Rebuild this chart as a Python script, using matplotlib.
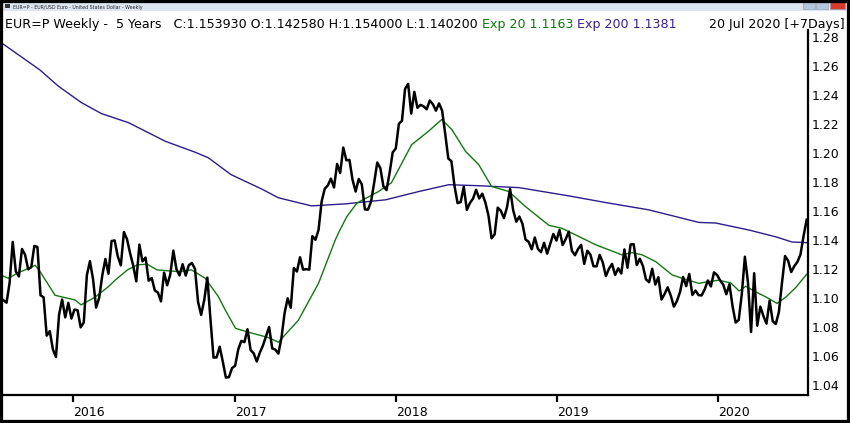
import numpy as np
import pandas as pd
import matplotlib
matplotlib.use('Agg')
import matplotlib.pyplot as plt
from matplotlib.patches import Rectangle

# weekly closes, EUR=P, week of 27 Jul 2015 .. week of 20 Jul 2020
weeks = pd.date_range('2015-07-27', '2020-07-20', freq='W-MON')
close = [
    # 2015
    1.0984, 1.0967, 1.1105, 1.1386, 1.1183, 1.1148, 1.1337, 1.1298, 1.1197, 1.1212,
    1.1358, 1.1351, 1.1018, 1.1004, 1.0740, 1.0771, 1.0646, 1.0593, 1.0884, 1.0989,
    1.0866, 1.0966, 1.0858,
    # 2016
    1.0920, 1.0915, 1.0797, 1.0831, 1.1156, 1.1253, 1.1130, 1.0933, 1.1002, 1.1156,
    1.1268, 1.1166, 1.1392, 1.1396, 1.1287, 1.1224, 1.1454, 1.1404, 1.1308, 1.1223,
    1.1114, 1.1367, 1.1252, 1.1278, 1.1119, 1.1137, 1.1051, 1.1037, 1.0976, 1.1174,
    1.1087, 1.1161, 1.1326, 1.1198, 1.1155, 1.1232, 1.1154, 1.1225, 1.1241, 1.1200,
    1.0972, 1.0883, 1.0986, 1.1140, 1.0856, 1.0589, 1.0590, 1.0664, 1.0561, 1.0451,
    1.0454, 1.0517,
    # 2017
    1.0532, 1.0645, 1.0704, 1.0695, 1.0784, 1.0641, 1.0618, 1.0562, 1.0623, 1.0672,
    1.0737, 1.0800, 1.0652, 1.0644, 1.0616, 1.0726, 1.0895, 1.0997, 1.0932, 1.1206,
    1.1182, 1.1280, 1.1195, 1.1198, 1.1195, 1.1426, 1.1400, 1.1469, 1.1665, 1.1752,
    1.1775, 1.1822, 1.1761, 1.1923, 1.1861, 1.2036, 1.1948, 1.1951, 1.1814, 1.1733,
    1.1819, 1.1783, 1.1610, 1.1608, 1.1664, 1.1793, 1.1933, 1.1894, 1.1768, 1.1743,
    1.1862, 1.2003,
    # 2018
    1.2030, 1.2200, 1.2220, 1.2440, 1.2475, 1.2270, 1.2420, 1.2310, 1.2330, 1.2320,
    1.2300, 1.2360, 1.2335, 1.2290, 1.2340, 1.2290, 1.2130, 1.1960, 1.1942, 1.1772,
    1.1653, 1.1660, 1.1766, 1.1607, 1.1654, 1.1684, 1.1745, 1.1685, 1.1718, 1.1657,
    1.1567, 1.1411, 1.1438, 1.1622, 1.1601, 1.1550, 1.1625, 1.1750, 1.1604, 1.1525,
    1.1561, 1.1511, 1.1402, 1.1387, 1.1335, 1.1416, 1.1338, 1.1315, 1.1380, 1.1305,
    1.1372, 1.1441,
    # 2019
    1.1395, 1.1468, 1.1364, 1.1405, 1.1456, 1.1325, 1.1294, 1.1337, 1.1366, 1.1234,
    1.1325, 1.1298, 1.1218, 1.1218, 1.1296, 1.1244, 1.1150, 1.1201, 1.1234, 1.1158,
    1.1204, 1.1168, 1.1334, 1.1208, 1.1368, 1.1370, 1.1226, 1.1270, 1.1219, 1.1127,
    1.1108, 1.1201, 1.1092, 1.1143, 1.0989, 1.1027, 1.1073, 1.1017, 1.0940, 1.0978,
    1.1040, 1.1144, 1.1081, 1.1165, 1.1020, 1.1051, 1.1019, 1.1017, 1.1059, 1.1120,
    1.1079, 1.1176,
    # 2020
    1.1158, 1.1120, 1.1091, 1.1025, 1.1094, 1.0944, 1.0830, 1.0848, 1.1026, 1.1284,
    1.1106, 1.0765, 1.1170, 1.0809, 1.0940, 1.0875, 1.0823, 1.0981, 1.0840, 1.0820,
    1.0902, 1.1102, 1.1289, 1.1256, 1.1178, 1.1219, 1.1248, 1.1300, 1.1427, 1.1539,
]

ema20_dates = [
    '2015-07-27', '2015-08-07', '2015-08-29', '2015-10-07', '2015-10-18', '2015-11-21',
    '2016-01-05', '2016-01-19', '2016-02-20', '2016-03-21', '2016-04-05', '2016-05-03',
    '2016-05-25', '2016-06-17', '2016-07-09', '2016-08-27', '2016-09-25', '2016-10-26',
    '2016-11-25', '2016-12-11', '2017-01-03', '2017-02-01', '2017-03-18', '2017-04-10',
    '2017-05-25', '2017-07-10', '2017-08-17', '2017-08-24', '2017-09-12', '2017-10-05',
    '2017-11-23', '2017-12-22', '2018-02-06', '2018-03-16', '2018-04-15', '2018-05-08',
    '2018-06-08', '2018-07-08', '2018-08-06', '2018-09-14', '2018-10-22', '2018-12-14',
    '2019-01-12', '2019-02-20', '2019-03-30', '2019-04-29', '2019-05-28', '2019-06-20',
    '2019-07-13', '2019-08-13', '2019-09-19', '2019-10-11', '2019-11-19', '2019-12-05',
    '2020-01-03', '2020-01-30', '2020-02-18', '2020-03-04', '2020-03-27', '2020-04-19',
    '2020-05-14', '2020-06-03', '2020-06-26', '2020-07-20',
]
ema20_vals = [
    1.1150, 1.1136, 1.1172, 1.1225, 1.1181, 1.1018,
    1.0986, 1.0952, 1.1006, 1.1078, 1.1122, 1.1193,
    1.1228, 1.1232, 1.1193, 1.1181, 1.1193, 1.1136,
    1.1009, 1.0914, 1.0790, 1.0764, 1.0727, 1.0695,
    1.0845, 1.1101, 1.1400, 1.1447, 1.1560, 1.1654,
    1.1733, 1.1793, 1.2056, 1.2148, 1.2229, 1.2160,
    1.2010, 1.1918, 1.1768, 1.1733, 1.1629, 1.1500,
    1.1480, 1.1423, 1.1366, 1.1331, 1.1297, 1.1312,
    1.1297, 1.1250, 1.1159, 1.1136, 1.1100, 1.1110,
    1.1122, 1.1103, 1.1048, 1.1080, 1.1041, 1.1006,
    1.0962, 1.1006, 1.1074, 1.1163,
]

ema200_dates = [
    '2015-07-27', '2015-10-18', '2015-11-28', '2016-01-19', '2016-03-05', '2016-05-05',
    '2016-07-28', '2016-10-04', '2016-11-02', '2016-12-24', '2017-03-02', '2017-04-10',
    '2017-06-24', '2017-09-09', '2017-12-09', '2018-02-22', '2018-05-01', '2018-07-08',
    '2018-10-07', '2019-01-28', '2019-04-29', '2019-07-28', '2019-11-19', '2019-12-27',
    '2020-03-11', '2020-05-12', '2020-06-17', '2020-07-20',
]
ema200_vals = [
    1.2748, 1.2570, 1.2460, 1.2347, 1.2270, 1.2208,
    1.2079, 1.2003, 1.1966, 1.1849, 1.1752, 1.1690,
    1.1634, 1.1648, 1.1676, 1.1733, 1.1780, 1.1773,
    1.1760, 1.1703, 1.1653, 1.1607, 1.1520, 1.1516,
    1.1468, 1.1420, 1.1385, 1.1381,
]

yticks = np.round(np.arange(1.04, 1.2801, 0.02), 2)
years = [2016, 2017, 2018, 2019, 2020]

W, H = 850, 423
fig = plt.figure(figsize=(W / 100, H / 100), dpi=100)
fig.patch.set_facecolor('white')

ax = fig.add_axes([3 / W, 1 - 395 / H, 805 / W, 365 / H])
ax.plot(pd.to_datetime(ema200_dates), ema200_vals, color='#2b1d8c', lw=1.0)
ax.plot(pd.to_datetime(ema20_dates), ema20_vals, color='#127812', lw=1.0)
ax.plot(weeks, close, color='black', lw=1.8)

ax.set_xlim(pd.Timestamp('2015-07-26'), pd.Timestamp('2020-07-23'))
ax.set_ylim(1.0331, 1.2846)

ax.yaxis.tick_right()
ax.set_yticks(yticks, [f'{v:.2f}' for v in yticks])
ax.tick_params(axis='y', length=0, pad=2.5, labelsize=9)
ax.set_xticks([pd.Timestamp(f'{y}-01-01') for y in years], [str(y) for y in years], ha='left')
ax.tick_params(axis='x', length=5, width=1.6, direction='out', labelsize=9, pad=3)

for s in ['top', 'left']:
    ax.spines[s].set_visible(False)
for s in ['right', 'bottom']:
    ax.spines[s].set_linewidth(1.6)

# window title bar
fig.add_artist(Rectangle((0, 1 - 11 / H), 1, 11 / H, transform=fig.transFigure,
                         facecolor='#dce5f0', edgecolor='none'))
fig.add_artist(Rectangle((5 / W, 1 - 8 / H), 5 / W, 4 / H, transform=fig.transFigure,
                         facecolor='#333333', edgecolor='none'))
fig.text(13 / W, 1 - 7.5 / H, 'EUR=P - EUR/USD Euro - United States Dollar - Weekly',
         fontsize=3.4, va='center', color='#222222')
for x0, w, c in [(803, 12, '#b4c6dc'), (816, 12, '#b4c6dc'), (830, 15, '#d83a2a')]:
    fig.add_artist(Rectangle((x0 / W, 1 - 9 / H), w / W, 7 / H, transform=fig.transFigure,
                             facecolor=c, edgecolor='#8899aa', lw=0.4))

# header line
renderer = fig.canvas.get_renderer()
segments = [
    ('EUR=P Weekly -  5 Years   C:1.153930 O:1.142580 H:1.154000 L:1.140200', 'black'),
    (' Exp 20 1.1163', '#0c7a0c'),
    (' Exp 200 1.1381', '#3b1f92'),
]
xpos = 5 / W
for txt, col in segments:
    t = fig.text(xpos, 1 - 28 / H, txt, color=col, fontsize=9.1, va='baseline')
    xpos = t.get_window_extent(renderer=renderer).x1 / fig.bbox.width
fig.text(845 / W, 1 - 28 / H, '20 Jul 2020 [+7Days]', fontsize=9.1, va='baseline', ha='right')

# outer frame
fig.add_artist(Rectangle((0, 0), 1, 1, transform=fig.transFigure, fill=False,
                         edgecolor='black', lw=4.5))

fig.savefig('out.png', dpi=100)
